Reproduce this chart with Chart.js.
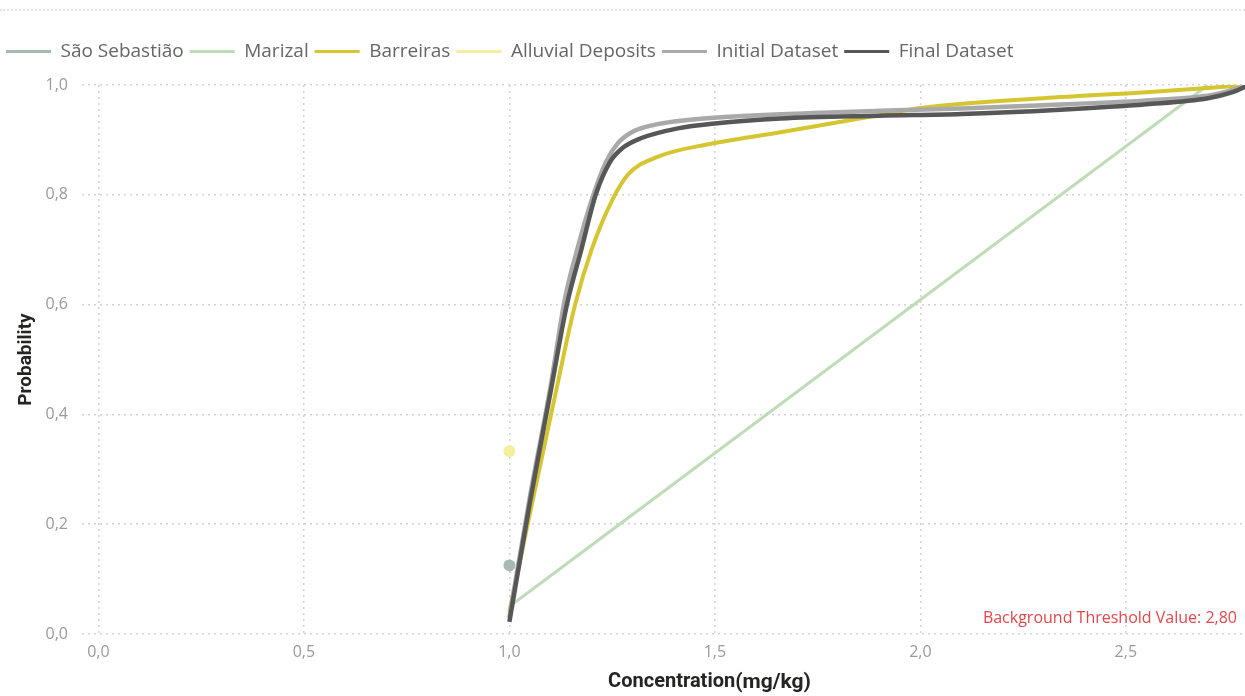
<!DOCTYPE html>
<html>
<head>
<meta charset="utf-8">
<script src="https://cdn.jsdelivr.net/npm/chart.js@4.4.1/dist/chart.umd.min.js"></script>
<style>
  html, body { margin: 0; padding: 0; background: #ffffff; }
  #wrap { position: relative; width: 1245px; height: 696px; overflow: hidden; }
  #topRule { position: absolute; left: 0; right: 0; top: 9px; border-top: 2px dotted #e3e3e3; }
  canvas { position: absolute; left: 0; top: 0; }
</style>
</head>
<body>
<div id="wrap">
  <div id="topRule"></div>
  <canvas id="cdf" width="1245" height="696"></canvas>
</div>
<script>
// Cumulative probability curves of concentration (mg/kg) per geological unit
const seriesNames = ['São Sebastião', 'Marizal', 'Barreiras', 'Alluvial Deposits', 'Initial Dataset', 'Final Dataset'];

const saoSebastiaoX = [1.0];
const saoSebastiaoY = [0.125];

const marizalX = [1.0, 2.70];
const marizalY = [0.05, 1.0];

const barreirasX = [1.00, 1.05, 1.11, 1.16, 1.20, 1.25, 1.29, 1.36, 1.49, 1.66, 1.80, 1.90, 2.00, 2.30, 2.55, 2.80];
const barreirasY = [0.04, 0.22, 0.43, 0.60, 0.70, 0.79, 0.838, 0.869, 0.893, 0.914, 0.932, 0.945, 0.958, 0.976, 0.987, 1.0];

const alluvialX = [1.0];
const alluvialY = [0.333];

const initialX = [1.00, 1.05, 1.10, 1.135, 1.165, 1.20, 1.235, 1.265, 1.30, 1.35, 1.49, 1.74, 1.90, 2.10, 2.30, 2.55, 2.71, 2.80];
const initialY = [0.03, 0.25, 0.45, 0.61, 0.70, 0.79, 0.86, 0.895, 0.915, 0.927, 0.940, 0.949, 0.953, 0.957, 0.963, 0.972, 0.982, 1.0];

const finalX = [1.00, 1.05, 1.10, 1.14, 1.175, 1.21, 1.245, 1.275, 1.32, 1.41, 1.50, 1.66, 1.90, 2.10, 2.34, 2.55, 2.70, 2.76, 2.80];
const finalY = [0.022, 0.24, 0.44, 0.60, 0.70, 0.80, 0.86, 0.885, 0.903, 0.921, 0.930, 0.939, 0.944, 0.947, 0.955, 0.965, 0.976, 0.987, 1.0];

const xTickValues = [0.0, 0.5, 1.0, 1.5, 2.0, 2.5];
const yTickValues = [0.0, 0.2, 0.4, 0.6, 0.8, 1.0];
const bgThreshold = 2.80;

const seriesColors = ['#a7bcae', '#bfdcb9', '#d5c531', '#f3ef9e', '#a9a9a9', '#575757'];

const pairs = (xs, ys) => xs.map((x, i) => ({ x: x, y: ys[i] }));
const comma = (v, d) => v.toFixed(d).replace('.', ',');

const FONT = '"Open Sans", "Noto Sans", sans-serif';
const TITLE_FONT = 'Roboto, "Noto Sans", sans-serif';

// Pushes the plot area a little further below the legend row
const legendGap = {
  id: 'legendGap',
  beforeInit(chart) {
    const fit = chart.legend.fit;
    chart.legend.fit = function () {
      fit.call(this);
      this.height += 14;
    };
  }
};

// Axis caption under the x axis and the threshold note in the corner
const captions = {
  id: 'captions',
  afterDraw(chart) {
    const { ctx, chartArea } = chart;
    ctx.save();
    ctx.fillStyle = '#252423';
    ctx.textBaseline = 'middle';
    const a = 'Concentration';
    ctx.font = 'bold 20px ' + TITLE_FONT;
    const wa = ctx.measureText(a).width;
    ctx.font = 'bold 21px ' + TITLE_FONT;
    const b = '(mg/kg)';
    const wb = ctx.measureText(b).width;
    const cx = (chartArea.left + chartArea.right) / 2 + 46;
    const x0 = cx - (wa + wb) / 2;
    ctx.textAlign = 'left';
    ctx.font = 'bold 20px ' + TITLE_FONT;
    ctx.fillText(a, x0, chartArea.bottom + 48);
    ctx.font = 'bold 21px ' + TITLE_FONT;
    ctx.fillText(b, x0 + wa, chartArea.bottom + 49);

    ctx.fillStyle = '#e2474b';
    ctx.font = '16px ' + FONT;
    ctx.textAlign = 'right';
    ctx.fillText('Background Threshold Value: ' + comma(bgThreshold, 2), chartArea.right - 8, chartArea.bottom - 16);
    ctx.restore();
  }
};

const lineDefaults = {
  showLine: true,
  pointRadius: 0,
  pointHoverRadius: 0,
  cubicInterpolationMode: 'monotone',
  fill: false
};

const chart = new Chart(document.getElementById('cdf'), {
  type: 'scatter',
  data: {
    datasets: [
      { label: seriesNames[0], data: pairs(saoSebastiaoX, saoSebastiaoY), showLine: false,
        pointRadius: 6, pointBackgroundColor: seriesColors[0], pointBorderWidth: 0,
        borderColor: seriesColors[0], backgroundColor: seriesColors[0], borderWidth: 3, order: 0 },
      Object.assign({ label: seriesNames[1], data: pairs(marizalX, marizalY),
        borderColor: seriesColors[1], backgroundColor: seriesColors[1], borderWidth: 3, order: 5 }, lineDefaults),
      Object.assign({ label: seriesNames[2], data: pairs(barreirasX, barreirasY),
        borderColor: seriesColors[2], backgroundColor: seriesColors[2], borderWidth: 4, order: 4 }, lineDefaults),
      { label: seriesNames[3], data: pairs(alluvialX, alluvialY), showLine: false,
        pointRadius: 6, pointBackgroundColor: seriesColors[3], pointBorderWidth: 0,
        borderColor: seriesColors[3], backgroundColor: seriesColors[3], borderWidth: 3, order: 0 },
      Object.assign({ label: seriesNames[4], data: pairs(initialX, initialY),
        borderColor: seriesColors[4], backgroundColor: seriesColors[4], borderWidth: 4.5, order: 3 }, lineDefaults),
      Object.assign({ label: seriesNames[5], data: pairs(finalX, finalY),
        borderColor: seriesColors[5], backgroundColor: seriesColors[5], borderWidth: 4.5, order: 2 }, lineDefaults)
    ]
  },
  options: {
    responsive: false,
    animation: false,
    layout: { autoPadding: false, padding: { top: 36, left: 0, right: 0, bottom: 0 } },
    plugins: {
      tooltip: { enabled: false },
      legend: {
        position: 'top',
        align: 'start',
        labels: {
          usePointStyle: true,
          pointStyle: 'line',
          pointStyleWidth: 45,
          padding: 6,
          color: '#666666',
          font: { family: FONT, size: 19 },
          sort: (a, b) => a.datasetIndex - b.datasetIndex,
          generateLabels(c) {
            return c.data.datasets.map((ds, i) => ({
              text: ds.label,
              datasetIndex: i,
              fillStyle: seriesColors[i],
              strokeStyle: seriesColors[i],
              lineWidth: 3,
              pointStyle: 'line',
              fontColor: '#666666',
              hidden: false
            }));
          }
        }
      }
    },
    scales: {
      x: {
        type: 'linear',
        min: -0.04,
        max: 2.79,
        afterBuildTicks(scale) { scale.ticks = xTickValues.map(v => ({ value: v })); },
        afterFit(scale) { scale.height = 62; },
        ticks: {
          padding: 9,
          color: '#9a9a9a',
          font: { family: FONT, size: 16 },
          callback: (v) => comma(v, 1)
        },
        grid: { color: '#d2d2d2', lineWidth: 1.5, drawTicks: false },
        border: { display: false, dash: [2, 4] }
      },
      y: {
        type: 'linear',
        min: 0,
        max: 1,
        afterBuildTicks(scale) { scale.ticks = yTickValues.map(v => ({ value: v })); },
        afterFit(scale) { scale.width = 82; },
        ticks: {
          padding: 14,
          color: '#9a9a9a',
          font: { family: FONT, size: 16 },
          callback: (v) => comma(v, 1)
        },
        title: {
          display: true,
          text: 'Probability',
          color: '#252423',
          font: { family: TITLE_FONT, size: 19, weight: 'bold' },
          padding: { top: 15, bottom: 0 }
        },
        grid: { color: '#d2d2d2', lineWidth: 1.5, drawTicks: false },
        border: { display: false, dash: [2, 4] }
      }
    }
  },
  plugins: [legendGap, captions]
});
</script>
</body>
</html>
